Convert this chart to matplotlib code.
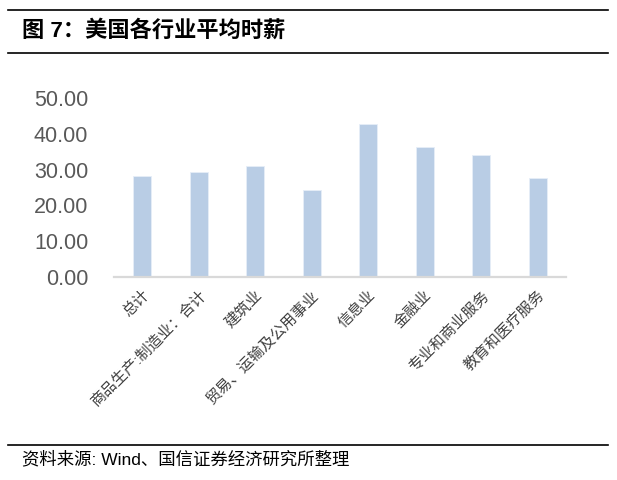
import matplotlib
matplotlib.use("Agg")
import matplotlib.pyplot as plt
from matplotlib.lines import Line2D

categories = ["总计", "商品生产:制造业：合计", "建筑业", "贸易、运输及公用事业",
              "信息业", "金融业", "专业和商业服务", "教育和医疗服务"]
values = [28.2, 29.3, 31.0, 24.4, 42.7, 36.4, 34.0, 27.6]
yticks = [0, 10, 20, 30, 40, 50]
ytick_labels = ["0.00", "10.00", "20.00", "30.00", "40.00", "50.00"]
title = "图 7：美国各行业平均时薪"
source = "资料来源: Wind、国信证券经济研究所整理"

fams = ["Liberation Sans", "Noto Sans CJK SC", "DejaVu Sans"]
plt.rcParams["font.family"] = fams

W, H = 617, 480
fig = plt.figure(figsize=(W / 100, H / 100), dpi=100)

ax = fig.add_axes([114 / W, 1 - 276.7 / H, (566 - 114) / W, (276.7 - 98.3) / H])
x = list(range(len(categories)))
ax.bar(x, values, width=0.32, color="#b9cde5", edgecolor="#e6eef8", linewidth=0.6)
ax.set_xlim(-0.5, len(categories) - 0.5)
ax.set_ylim(0, 50)
ax.set_yticks(yticks)
ax.set_yticklabels(ytick_labels, fontsize=15.5, color="#595959")
ax.set_xticks(x)
ax.set_xticklabels(categories, rotation=45, ha="right", rotation_mode="anchor",
                   fontsize=11, color="#404040")
ax.tick_params(axis="both", length=0)
ax.tick_params(axis="y", pad=18.5)
ax.tick_params(axis="x", pad=8)
for s in ["top", "right", "left"]:
    ax.spines[s].set_visible(False)
ax.spines["bottom"].set_color("#d9d9d9")
ax.spines["bottom"].set_linewidth(1.6)

# header / footer lines
for yy in [9.5, 52.7, 444.5]:
    fig.add_artist(Line2D([8 / W, 608 / W], [1 - yy / H, 1 - yy / H],
                          color="black", linewidth=1.2, transform=fig.transFigure))

fig.text(22 / W, 1 - 30.5 / H, title, fontsize=16, fontweight="bold",
         va="center", ha="left", color="black")
fig.text(22 / W, 1 - 459 / H, source, fontsize=12.5, va="center", ha="left",
         color="black")

fig.savefig("out.png", dpi=100)
